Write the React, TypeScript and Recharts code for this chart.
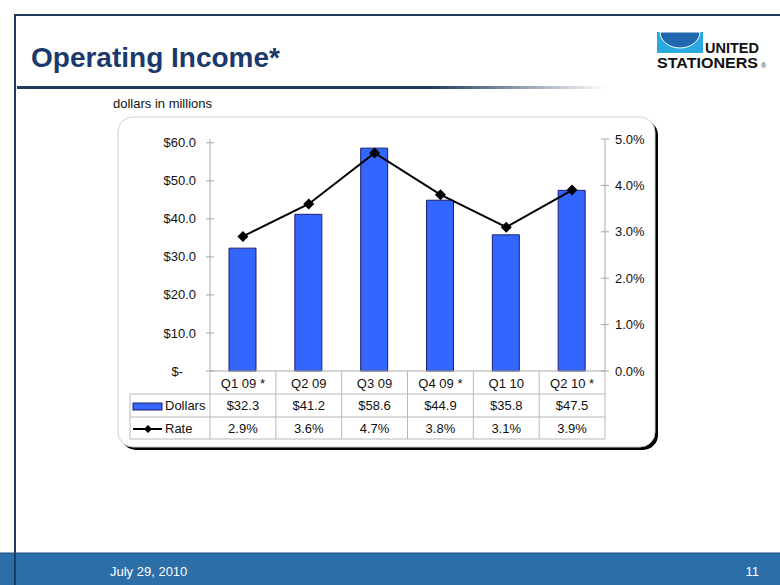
import React from "react";
import { ComposedChart, Bar, Line, XAxis, YAxis } from "recharts";

const quarters = ["Q1 09 *", "Q2 09", "Q3 09", "Q4 09 *", "Q1 10", "Q2 10 *"];
const dollars = [32.3, 41.2, 58.6, 44.9, 35.8, 47.5];
const rates = [2.9, 3.6, 4.7, 3.8, 3.1, 3.9];
const dollarTicks = [0, 10, 20, 30, 40, 50, 60];
const rateTicks = [0, 1, 2, 3, 4, 5];

const data = quarters.map((q, i) => ({ q, dollars: dollars[i], rate: rates[i] }));

const FONT = '"Liberation Sans", Arial, sans-serif';
const AXIS = "#a8a8a8";
const GRID = "#b8b8b8";
const BAR_FILL = "#3366ff";
const BAR_STROKE = "#1c1f6e";
const NAVY = "#1b3a6b";

// plot area: x 210..605, y 139..371
const PLOT_W = 395;
const COL = PLOT_W / quarters.length;
const ROW = 23;
const LEGEND_W = 80;

function LeftTick(props: any) {
  const { x, y, payload } = props;
  const v = payload.value;
  return (
    <g>
      <line x1={x - 4} x2={x + 4} y1={y} y2={y} stroke={AXIS} />
      <text x={v === 0 ? x - 27 : x - 14} y={y} dy="0.35em" textAnchor="end" fontSize={13} fontFamily={FONT} fill="#111">
        {v === 0 ? "$-" : `$${v.toFixed(1)}`}
      </text>
    </g>
  );
}

function RightTick(props: any) {
  const { x, y, payload } = props;
  return (
    <g>
      <line x1={x - 4} x2={x + 4} y1={y} y2={y} stroke={AXIS} />
      <text x={x + 10} y={y} dy="0.35em" textAnchor="start" fontSize={13} fontFamily={FONT} fill="#111">
        {`${payload.value.toFixed(1)}%`}
      </text>
    </g>
  );
}

function Diamond(props: any) {
  const { cx, cy } = props;
  if (cx == null || cy == null) return null;
  const r = 5.5;
  return <path d={`M${cx},${cy - r}L${cx + r},${cy}L${cx},${cy + r}L${cx - r},${cy}Z`} fill="#000" />;
}

// category row + data table drawn under each category tick
function TableTick(props: any) {
  const { x, y, payload, index } = props;
  const l = x - COL / 2;
  const r = x + COL / 2;
  const txt = { fontSize: 13, fontFamily: FONT, fill: "#111", textAnchor: "middle" as const };
  return (
    <g>
      <line x1={r} x2={r} y1={y} y2={y + ROW * 3 - 1} stroke={GRID} />
      {index === 0 && <line x1={l} x2={l} y1={y} y2={y + ROW * 3 - 1} stroke={GRID} />}
      <line x1={l} x2={r} y1={y + ROW} y2={y + ROW} stroke={GRID} />
      <line x1={l} x2={r} y1={y + ROW * 2} y2={y + ROW * 2} stroke={GRID} />
      <line x1={l} x2={r} y1={y + ROW * 3 - 1} y2={y + ROW * 3 - 1} stroke={GRID} />
      <text x={x} y={y + 12} dy="0.35em" {...txt}>{payload.value}</text>
      <text x={x} y={y + ROW + 11.5} dy="0.35em" {...txt}>{`$${dollars[index].toFixed(1)}`}</text>
      <text x={x} y={y + ROW * 2 + 11} dy="0.35em" {...txt}>{`${rates[index].toFixed(1)}%`}</text>
      {index === 0 && (
        <g>
          <line x1={l - LEGEND_W} x2={l} y1={y + ROW} y2={y + ROW} stroke={GRID} />
          <line x1={l - LEGEND_W} x2={l} y1={y + ROW * 2} y2={y + ROW * 2} stroke={GRID} />
          <line x1={l - LEGEND_W} x2={l} y1={y + ROW * 3 - 1} y2={y + ROW * 3 - 1} stroke={GRID} />
          <line x1={l - LEGEND_W} x2={l - LEGEND_W} y1={y + ROW} y2={y + ROW * 3 - 1} stroke={GRID} />
          <rect x={l - LEGEND_W + 3} y={y + ROW + 9} width={29} height={7} fill={BAR_FILL} stroke={BAR_STROKE} />
          <text x={l - LEGEND_W + 35} y={y + ROW + 11.5} dy="0.35em" fontSize={13} fontFamily={FONT} fill="#111">Dollars</text>
          <line x1={l - LEGEND_W + 3} x2={l - LEGEND_W + 32} y1={y + ROW * 2 + 12} y2={y + ROW * 2 + 12} stroke="#000" strokeWidth={2} />
          <path
            d={`M${l - LEGEND_W + 18},${y + ROW * 2 + 8}l4,4l-4,4l-4,-4Z`}
            fill="#000"
          />
          <text x={l - LEGEND_W + 35} y={y + ROW * 2 + 11} dy="0.35em" fontSize={13} fontFamily={FONT} fill="#111">Rate</text>
        </g>
      )}
    </g>
  );
}

export default function App() {
  return (
    <div style={{ position: "absolute", left: 0, top: 0, width: 780, height: 585, background: "#fff", overflow: "hidden" }}>
      <svg width={780} height={585} style={{ position: "absolute", left: 0, top: 0 }}>
        <defs>
          <linearGradient id="rule" x1="0" x2="1" y1="0" y2="0">
            <stop offset="0" stopColor="#1f3a5f" />
            <stop offset="0.7" stopColor="#1f3a5f" />
            <stop offset="1" stopColor="#ffffff" />
          </linearGradient>
        </defs>
        {/* frame */}
        <line x1={14} x2={780} y1={15} y2={15} stroke="#1f3a5f" strokeWidth={2} />
        <line x1={15} x2={15} y1={14} y2={585} stroke="#1f3a5f" strokeWidth={2} />
        <rect x={17} y={86} width={590} height={3} fill="url(#rule)" />
        <text x={31} y={67} fontSize={28} fontWeight="bold" fontFamily={FONT} fill={NAVY}>Operating Income*</text>
        {/* logo */}
        <rect x={657} y={32} width={46} height={21} fill="#2aa9e0" />
        <path d="M660,32 A20,16 0 0 0 700,32 Z" fill="#2167ad" stroke="#fff" strokeWidth={1} />
        <text x={705} y={53} fontSize={15} fontWeight="bold" fontFamily={FONT} textLength={54} lengthAdjust="spacingAndGlyphs" fill="#111">UNITED</text>
        <text x={657} y={68} fontSize={15} fontWeight="bold" fontFamily={FONT} textLength={101} lengthAdjust="spacingAndGlyphs" fill="#111">STATIONERS</text>
        <text x={761} y={68} fontSize={7} fontFamily={FONT} fill="#333">®</text>
        <text x={113} y={108} fontSize={13} fontFamily={FONT} fill="#111">dollars in millions</text>
        {/* chart box */}
        <rect x={121} y={120} width={537} height={330} rx={15} fill="#000" />
        <rect x={118} y={117} width={537} height={330} rx={15} fill="#fff" stroke="#d0d0d0" />
        {/* footer */}
        <rect x={0} y={553} width={780} height={32} fill="#2b6ea8" />
        <line x1={0} x2={780} y1={553} y2={553} stroke="#1f4f80" />
        <line x1={15} x2={15} y1={553} y2={585} stroke="#1f3a5f" strokeWidth={2} />
        <text x={110} y={576} fontSize={13} fontFamily={FONT} fill="#fff">July 29, 2010</text>
        <text x={759} y={576} fontSize={13} fontFamily={FONT} fill="#fff" textAnchor="end">11</text>
      </svg>
      <div style={{ position: "absolute", left: 0, top: 0 }}>
        <ComposedChart
          width={780}
          height={460}
          data={data}
          margin={{ top: 139, right: 115, bottom: 21, left: 130 }}
          barCategoryGap="30%"
        >
          <XAxis
            dataKey="q"
            height={ROW * 3 - 1}
            interval={0}
            tickLine={false}
            tickSize={0}
            tickMargin={0}
            axisLine={{ stroke: AXIS }}
            tick={(p: any) => <TableTick {...p} />}
          />
          <YAxis
            yAxisId="l"
            width={80}
            domain={[0, 61]}
            ticks={dollarTicks}
            tickLine={false}
            tickSize={0}
            tickMargin={0}
            axisLine={{ stroke: AXIS }}
            tick={(p: any) => <LeftTick {...p} />}
          />
          <YAxis
            yAxisId="r"
            orientation="right"
            width={60}
            domain={[0, 5]}
            ticks={rateTicks}
            tickLine={false}
            tickSize={0}
            tickMargin={0}
            axisLine={{ stroke: AXIS }}
            tick={(p: any) => <RightTick {...p} />}
          />
          <Bar yAxisId="l" dataKey="dollars" barSize={27} fill={BAR_FILL} stroke={BAR_STROKE} strokeWidth={1} isAnimationActive={false} />
          <Line
            yAxisId="r"
            dataKey="rate"
            stroke="#000"
            strokeWidth={2}
            dot={(p: any) => <Diamond key={p.index} {...p} />}
            activeDot={false}
            isAnimationActive={false}
          />
        </ComposedChart>
      </div>
    </div>
  );
}
